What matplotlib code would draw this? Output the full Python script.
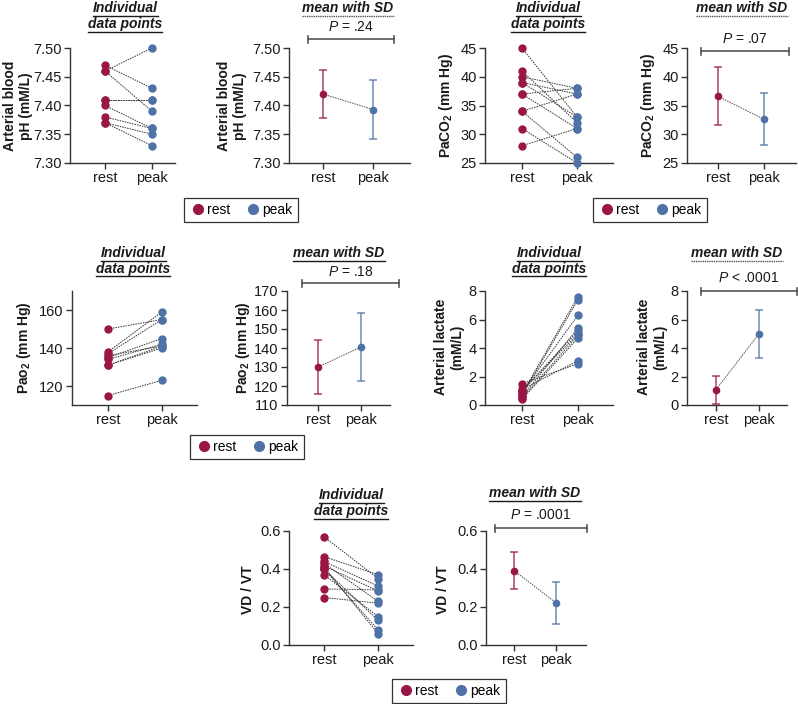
import matplotlib
matplotlib.use("Agg")
import matplotlib.pyplot as plt
from matplotlib.lines import Line2D
import numpy as np

plt.rcParams['font.family'] = ['Liberation Sans', 'DejaVu Sans']
plt.rcParams['mathtext.fontset'] = 'custom'
plt.rcParams['mathtext.rm'] = 'Liberation Sans'
plt.rcParams['mathtext.it'] = 'Liberation Sans:italic'
plt.rcParams['mathtext.bf'] = 'Liberation Sans:bold'
plt.rcParams['font.size'] = 10

W, H = 798, 704
REST_COLOR = '#9A1646'
PEAK_COLOR = '#4E72A6'
AXIS_COLOR = '#333333'

categories = ['rest', 'peak']

# --- individual data points (rest, peak pairs) ---
ph_rest = [7.46, 7.47, 7.46, 7.41, 7.41, 7.40, 7.38, 7.37, 7.37]
ph_peak = [7.50, 7.43, 7.39, 7.41, 7.41, 7.36, 7.36, 7.35, 7.33]

paco2_rest = [45, 41, 40, 39, 39, 37, 37, 34, 34, 31, 28]
paco2_peak = [33, 32, 38, 37, 33, 38, 31, 37, 26, 25, 31]

pao2_rest = [150, 138, 137, 135, 134, 136, 131, 131, 115]
pao2_peak = [155, 159, 155, 145, 142, 141, 140, 141, 123]

lact_rest = [0.8, 0.7, 0.9, 0.6, 1.0, 0.5, 0.4, 1.1, 1.5, 1.0]
lact_peak = [7.6, 7.4, 6.3, 5.4, 5.2, 4.9, 4.7, 3.1, 2.9, 5.0]

vdvt_rest = [0.57, 0.465, 0.44, 0.43, 0.415, 0.40, 0.40, 0.37, 0.295, 0.25, 0.41]
vdvt_peak = [0.35, 0.37, 0.31, 0.23, 0.285, 0.13, 0.08, 0.15, 0.29, 0.22, 0.06]

# --- mean with SD (rest, peak) ---
ph_mean = [7.420, 7.393]
ph_sd = [0.042, 0.052]
paco2_mean = [36.6, 32.6]
paco2_sd = [5.05, 4.5]
pao2_mean = [130.0, 140.5]
pao2_sd = [14.0, 17.8]
lact_mean = [1.08, 5.0]
lact_sd = [0.98, 1.7]
vdvt_mean = [0.392, 0.222]
vdvt_sd = [0.095, 0.112]

p_labels = ['$P$ = .24', '$P$ = .07', '$P$ = .18', '$P$ < .0001', '$P$ = .0001']

fig = plt.figure(figsize=(W / 100, H / 100), dpi=100)
titles = []


def fx(x):
    return x / W


def fy(y):
    return 1 - y / H


def px_axes(left, rest, peak, right, top, bottom, ylim, yticks, fmt):
    ax = fig.add_axes([fx(left), fy(bottom), (right - left) / W, (bottom - top) / H])
    unit = peak - rest
    ax.set_xlim(-(rest - left) / unit, 1 + (right - peak) / unit)
    ax.set_ylim(*ylim)
    ax.set_yticks(yticks)
    ax.set_yticklabels([fmt.format(v) for v in yticks])
    ax.set_xticks([0, 1])
    ax.set_xticklabels(categories)
    for s in ['top', 'right']:
        ax.spines[s].set_visible(False)
    for s in ['left', 'bottom']:
        ax.spines[s].set_color(AXIS_COLOR)
        ax.spines[s].set_linewidth(1.0)
    ax.tick_params(colors=AXIS_COLOR, labelcolor='#1a1a1a', length=4, width=1.0,
                   labelsize=10.5, pad=2)
    ax.patch.set_alpha(0)
    return ax


def individual(ax, rest, peak):
    for r, p in zip(rest, peak):
        ax.plot([0, 1], [r, p], color='#3a3a3a', lw=0.7, ls=(0, (1.6, 1.0)), zorder=1)
    ax.plot(np.zeros(len(rest)), rest, 'o', color=REST_COLOR, ms=5, clip_on=False, zorder=3)
    ax.plot(np.ones(len(peak)), peak, 'o', color=PEAK_COLOR, ms=5, clip_on=False, zorder=3)


def mean_sd(ax, mean, sd):
    ax.plot([0, 1], mean, color='#555555', lw=0.7, ls=(0, (1.6, 1.0)), zorder=1)
    for i, c in enumerate([REST_COLOR, PEAK_COLOR]):
        ax.errorbar(i, mean[i], yerr=sd[i], fmt='none', ecolor=c, alpha=0.75,
                    elinewidth=1.2, capsize=3, capthick=1.2, clip_on=False, zorder=2)
        ax.plot(i, mean[i], 'o', color=c, ms=4.5, clip_on=False, zorder=3)


def title(x, y, lines, dotted=False):
    step = 16
    y0 = y - step * (len(lines) - 1) / 2
    for k, s in enumerate(lines):
        t = fig.text(fx(x), fy(y0 + k * step), s, ha='center', va='center',
                     fontsize=10, fontweight='bold', fontstyle='italic', color='#1a1a1a')
        titles.append((t, dotted))


def ylabel(x, y, s):
    fig.text(fx(x), fy(y), s, rotation=90, ha='center', va='center',
             fontsize=10, fontweight='bold', multialignment='center', color='#1a1a1a')


def bracket(x0, x1, y, ty, label):
    fig.add_artist(Line2D([fx(x0), fx(x1)], [fy(y), fy(y)], color='#555555', lw=1.2))
    for xx in (x0, x1):
        fig.add_artist(Line2D([fx(xx), fx(xx)], [fy(y - 3.5), fy(y + 3.5)], color='#555555', lw=1.2))
    fig.text(fx((x0 + x1) / 2), fy(ty), label, ha='center', va='center', fontsize=10, color='#1a1a1a')


def legend(cx, cy):
    handles = [Line2D([], [], marker='o', ls='none', color=REST_COLOR, ms=7),
               Line2D([], [], marker='o', ls='none', color=PEAK_COLOR, ms=7)]
    leg = fig.legend(handles, categories, loc='center', bbox_to_anchor=(fx(cx), fy(cy)),
                     ncol=2, frameon=True, fancybox=False, edgecolor=AXIS_COLOR, framealpha=1,
                     handletextpad=0.1, columnspacing=1.0, borderpad=0.35, handlelength=1.2,
                     fontsize=10)
    leg.get_frame().set_linewidth(0.9)


ph_ticks = [7.30, 7.35, 7.40, 7.45, 7.50]

# row 1: pH
ax = px_axes(70, 105, 152, 175, 48, 163, (7.30, 7.50), ph_ticks, '{:.2f}')
individual(ax, ph_rest, ph_peak)
title(125, 16, ['Individual', 'data points'])
ylabel(18, 106, 'Arterial blood\npH (mM/L)')

ax = px_axes(289, 323, 373, 410, 48, 163, (7.30, 7.50), ph_ticks, '{:.2f}')
mean_sd(ax, ph_mean, ph_sd)
title(348, 8, ['mean with SD'], dotted=True)
ylabel(232, 106, 'Arterial blood\npH (mM/L)')
bracket(308, 394, 39, 27, p_labels[0])

# row 1: PaCO2
co2_ticks = [25, 30, 35, 40, 45]
ax = px_axes(485, 522, 577, 613, 48, 163, (25, 45), co2_ticks, '{:d}')
individual(ax, paco2_rest, paco2_peak)
title(548, 16, ['Individual', 'data points'])
ylabel(446, 105, r'PaCO$_\mathbf{2}$ (mm Hg)')

ax = px_axes(687, 718, 764, 796, 48, 163, (25, 45), co2_ticks, '{:d}')
mean_sd(ax, paco2_mean, paco2_sd)
title(742, 8, ['mean with SD'], dotted=True)
ylabel(648, 105, r'PaCO$_\mathbf{2}$ (mm Hg)')
bracket(701, 789, 51, 39, p_labels[1])

legend(241, 210)
legend(650, 210)

# row 2: PaO2
ax = px_axes(72, 108, 162, 197, 291, 405, (110, 170), [120, 140, 160], '{:d}')
individual(ax, pao2_rest, pao2_peak)
title(133, 261, ['Individual', 'data points'])
ylabel(24, 348, r'Pao$_\mathbf{2}$ (mm Hg)')

ax = px_axes(287, 318, 361, 390, 291, 405, (110, 170), list(range(110, 171, 10)), '{:d}')
mean_sd(ax, pao2_mean, pao2_sd)
title(339, 253, ['mean with SD'])
ylabel(243, 348, r'Pao$_\mathbf{2}$ (mm Hg)')
bracket(302, 399, 283, 272, p_labels[2])

# row 2: lactate
ax = px_axes(485, 522, 578, 613, 291, 405, (0, 8), [0, 2, 4, 6, 8], '{:d}')
individual(ax, lact_rest, lact_peak)
title(549, 261, ['Individual', 'data points'])
ylabel(449, 347, 'Arterial lactate\n(mM/L)')

ax = px_axes(687, 716, 759, 787, 291, 405, (0, 8), [0, 2, 4, 6, 8], '{:d}')
mean_sd(ax, lact_mean, lact_sd)
title(737, 253, ['mean with SD'], dotted=True)
ylabel(652, 347, 'Arterial lactate\n(mM/L)')
bracket(701, 797, 291, 278, p_labels[3])

legend(247, 447)

# row 3: VD/VT
vd_ticks = [0.0, 0.2, 0.4, 0.6]
ax = px_axes(289, 324, 378, 413, 531, 645, (0, 0.6), vd_ticks, '{:.1f}')
individual(ax, vdvt_rest, vdvt_peak)
title(351, 503, ['Individual', 'data points'])
ylabel(248, 590, 'VD / VT')

ax = px_axes(486, 514, 556, 586, 531, 645, (0, 0.6), vd_ticks, '{:.1f}')
mean_sd(ax, vdvt_mean, vdvt_sd)
title(535, 493, ['mean with SD'])
ylabel(443, 590, 'VD / VT')
bracket(495, 587, 528, 515, p_labels[4])

legend(449, 691)

# underline the panel titles
fig.canvas.draw()
renderer = fig.canvas.get_renderer()
for t, dotted in titles:
    bb = t.get_window_extent(renderer)
    yy = (bb.y0 - 0.5) / fig.bbox.height
    fig.add_artist(Line2D([bb.x0 / fig.bbox.width, bb.x1 / fig.bbox.width], [yy, yy],
                          color='#555555' if dotted else '#1a1a1a', lw=1.0,
                          ls=(0, (1, 0.6)) if dotted else '-'))

fig.savefig('out.png', dpi=100)
